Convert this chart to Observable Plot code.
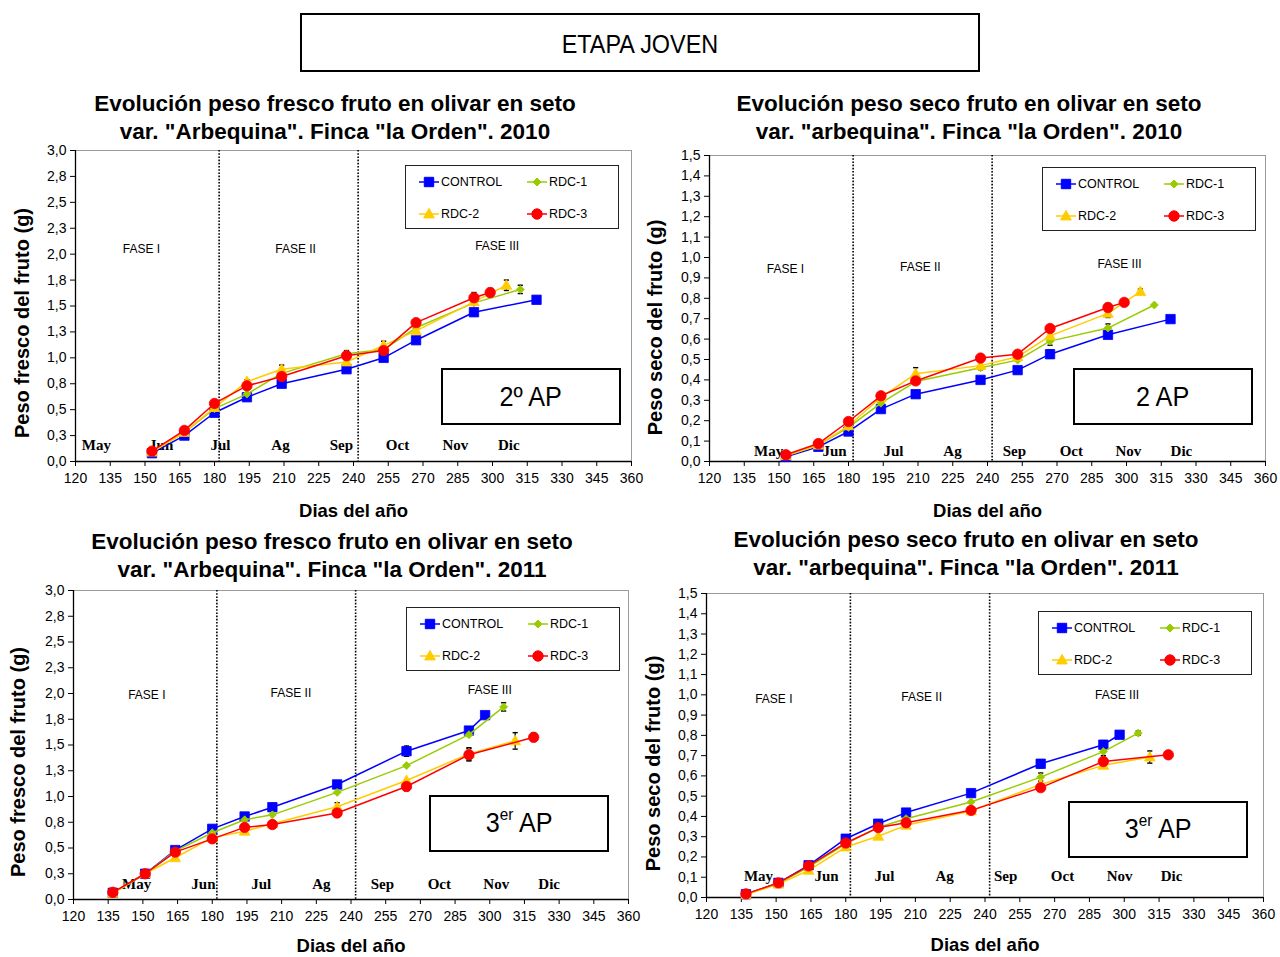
<!DOCTYPE html>
<html><head><meta charset="utf-8">
<script src="https://cdn.jsdelivr.net/npm/d3@7"></script>
<script src="https://cdn.jsdelivr.net/npm/@observablehq/plot@0.6"></script>
<style>
body{margin:0;background:#fff;}
#root{position:relative;width:1280px;height:957px;overflow:hidden;font-family:"Liberation Sans",Arial,sans-serif;color:#000;background:#fff;}
.panel{position:absolute;}
.title{position:absolute;width:640px;text-align:center;font-weight:bold;font-size:22.5px;line-height:28px;white-space:nowrap;}
.legend{position:absolute;border:1.3px solid #222;box-sizing:border-box;width:214px;height:64px;background:#fff;}
.legend .item{position:absolute;font-size:12.5px;line-height:14px;display:flex;align-items:center;white-space:nowrap;}
.apbox{position:absolute;border:2px solid #000;box-sizing:border-box;width:180px;height:57px;display:flex;align-items:center;justify-content:center;font-size:28px;background:#fff;}
.apbox span{display:inline-block;transform:scaleX(0.9);}
.apbox sup{font-size:17px;position:relative;top:-2px;}
#etapa{position:absolute;left:300px;top:13px;width:680px;height:59px;border:2px solid #000;box-sizing:border-box;display:flex;align-items:center;justify-content:center;font-size:26px;padding-top:4px;}
#etapa span{display:inline-block;transform:scaleX(0.9);}
</style>
</head>
<body>
<div id="root">
  <div id="etapa"><span>ETAPA JOVEN</span></div>
</div>
<script>
// ---------- shared categories / ticks ----------
const seriesNames = ["CONTROL", "RDC-1", "RDC-2", "RDC-3"];
const xTicks = [120,135,150,165,180,195,210,225,240,255,270,285,300,315,330,345,360];
const yTicksFresh = [0,0.25,0.5,0.75,1,1.25,1.5,1.75,2,2.25,2.5,2.75,3];
const yLabelsFresh = ["0,0","0,3","0,5","0,8","1,0","1,3","1,5","1,8","2,0","2,3","2,5","2,8","3,0"];
const yTicksDry = [0,0.1,0.2,0.3,0.4,0.5,0.6,0.7,0.8,0.9,1,1.1,1.2,1.3,1.4,1.5];
const yLabelsDry = ["0,0","0,1","0,2","0,3","0,4","0,5","0,6","0,7","0,8","0,9","1,0","1,1","1,2","1,3","1,4","1,5"];
const monthNames = ["May","Jun","Jul","Ag","Sep","Oct","Nov","Dic"];
const phaseNames = ["FASE I","FASE II","FASE III"];
const phaseLimits = [182, 242];

// ---------- 2010 ----------
const days2010 = [153,167,180,194,209,237,253,267,292,299,306,312,319];
const fresh2010 = {
  "CONTROL": [0.08,0.25,0.47,0.62,0.75,0.89,1.00,1.17,1.44,null,null,null,1.56],
  "RDC-1":   [0.09,0.28,0.51,0.65,0.85,1.04,1.08,1.29,1.53,null,null,1.66,null],
  "RDC-2":   [0.09,0.28,0.52,0.77,0.89,0.96,1.12,1.26,1.54,null,1.70,null,null],
  "RDC-3":   [0.10,0.30,0.56,0.73,0.82,1.02,1.07,1.34,1.58,1.63,null,null,null]
};
const fresh2010Err = {
  "CONTROL": [0,0,0,0,0,0,0,0.03,0,0,0,0,0.01],
  "RDC-1":   [0,0,0,0,0,0.03,0,0,0,0,0,0.04,0],
  "RDC-2":   [0,0,0,0.02,0.04,0,0.04,0,0,0,0.05,0,0],
  "RDC-3":   [0,0,0,0,0,0,0,0,0.05,0.04,0,0,0]
};
const dry2010 = {
  "CONTROL": [0.023,0.072,0.147,0.257,0.330,0.400,0.448,0.526,0.621,null,null,null,0.698],
  "RDC-1":   [0.028,0.080,0.167,0.286,0.392,0.460,0.497,0.590,0.654,null,null,0.767,null],
  "RDC-2":   [0.028,0.080,0.175,0.314,0.430,0.470,0.513,0.616,0.726,null,0.833,null,null],
  "RDC-3":   [0.033,0.088,0.196,0.322,0.395,0.507,0.526,0.652,0.755,0.780,null,null,null]
};
const dry2010Err = {
  "CONTROL": [0,0,0,0,0,0,0,0.02,0,0,0,0,0],
  "RDC-1":   [0,0,0,0,0,0,0,0.02,0.02,0,0,0,0],
  "RDC-2":   [0,0,0,0,0.03,0.02,0,0,0.02,0,0.012,0,0],
  "RDC-3":   [0,0,0,0,0,0,0,0,0.02,0,0,0,0]
};

// ---------- 2011 ----------
const days2011 = [137,151,164,180,194,206,234,264,291,298,306,311,319];
const fresh2011 = {
  "CONTROL": [0.065,0.25,0.48,0.686,0.806,0.896,1.117,1.44,1.64,1.79,null,null,null],
  "RDC-1":   [0.065,0.25,0.47,0.648,0.774,0.822,1.040,1.30,1.60,null,1.87,null,null],
  "RDC-2":   [0.060,0.25,0.405,0.600,0.663,0.735,0.900,1.155,1.414,null,null,1.54,null],
  "RDC-3":   [0.070,0.25,0.46,0.589,0.700,0.728,0.840,1.097,1.405,null,null,null,1.575]
};
const fresh2011Err = {
  "CONTROL": [0,0,0,0,0,0,0,0.05,0.03,0,0,0,0],
  "RDC-1":   [0,0,0,0,0,0,0,0,0,0,0.04,0,0],
  "RDC-2":   [0,0,0,0,0,0,0.04,0,0.06,0,0,0.08,0],
  "RDC-3":   [0,0,0,0,0,0,0,0.04,0.06,0,0,0,0.04]
};
const dry2011 = {
  "CONTROL": [0.016,0.072,0.159,0.290,0.364,0.419,0.515,0.660,0.754,0.803,null,null,null],
  "RDC-1":   [0.016,0.070,0.150,0.265,0.345,0.389,0.471,0.594,0.720,null,0.811,null,null],
  "RDC-2":   [0.014,0.066,0.134,0.249,0.302,0.356,0.427,0.558,0.652,null,null,0.693,null],
  "RDC-3":   [0.018,0.072,0.156,0.269,0.345,0.369,0.430,0.542,0.671,null,null,null,0.704]
};
const dry2011Err = {
  "CONTROL": [0,0,0,0,0,0,0,0.02,0.02,0,0,0,0],
  "RDC-1":   [0,0,0,0,0,0,0,0.02,0.02,0,0.01,0,0],
  "RDC-2":   [0,0,0,0,0,0,0,0,0,0,0,0.03,0],
  "RDC-3":   [0,0,0,0,0,0,0,0,0.02,0,0,0,0]
};

// month label positions (day of year) as printed in each chart
const monthDaysP1 = [129,157,182.6,208.5,234.8,259,284,307];
const monthDaysP2 = [145.5,174,199.4,224.9,251.6,276.2,300.8,323.7];
const monthDaysP3 = [147.3,176.2,201.2,227.2,253.6,278.2,302.8,325.7];
const monthDaysP4 = [142.4,171.7,196.7,222.6,248.9,273.4,298,320.4];
// phase label anchor (day, value)
const phaseDaysP1 = [148.5,215,302], phaseValsP1 = [2.05,2.05,2.08];
const phaseDaysP2 = [152.8,211,297], phaseValsP2 = [0.945,0.955,0.965];
const phaseDaysP3 = [151.7,214,300], phaseValsP3 = [1.98,2.0,2.03];
const phaseDaysP4 = [149,212.7,296.9], phaseValsP4 = [0.98,0.99,1.0];

// ---------- styles ----------
const styles = {
  "CONTROL": {color:"#0000FF", shape:"square", r:4.7},
  "RDC-1":   {color:"#99CC00", shape:"diamond", r:4.0},
  "RDC-2":   {color:"#FFCC00", shape:"triangle", r:5.6},
  "RDC-3":   {color:"#FF0000", shape:"circle", r:5.2}
};
const symbols = {
  square: {draw(c, s){ const h = Math.sqrt(s/Math.PI); c.rect(-h,-h,2*h,2*h); }},
  circle: {draw(c, s){ const h = Math.sqrt(s/Math.PI); c.moveTo(h,0); c.arc(0,0,h,0,2*Math.PI); }},
  diamond:{draw(c, s){ const h = Math.sqrt(s/Math.PI); c.moveTo(0,-h); c.lineTo(h,0); c.lineTo(0,h); c.lineTo(-h,0); c.closePath(); }},
  triangle:{draw(c, s){ const h = Math.sqrt(s/Math.PI); c.moveTo(0,-h); c.lineTo(h*0.95,h*0.7); c.lineTo(-h*0.95,h*0.7); c.closePath(); }},
  cap:    {draw(c, s){ const h = Math.sqrt(s/Math.PI); c.moveTo(-h,0); c.lineTo(h,0); }}
};

function toRows(days, values, errs) {
  const rows = [];
  for (const name of seriesNames) {
    values[name].forEach((v, i) => {
      if (v != null) rows.push({series: name, day: days[i], value: v, err: errs[name][i]});
    });
  }
  return rows;
}

const panels = [
  {left:0, top:140, width:640, height:390, mt:10, mr:9, mb:69, ml:75,
   days:days2010, values:fresh2010, errs:fresh2010Err, yTicks:yTicksFresh, yLabels:yLabelsFresh, ymax:3,
   ytitle:"Peso fresco del fruto (g)", ytDx:-53, ytDy:17, xtDy:50, monthDays:monthDaysP1, monthDy:-16,
   phaseDays:phaseDaysP1, phaseVals:phaseValsP1,
   title:["Evolución peso fresco fruto en olivar en seto","var. \"Arbequina\". Finca \"la Orden\". 2010"], titleLeft:15, titleTop:90,
   legend:[405,165], ap:[441,368], apHtml:"2º AP"},
  {left:640, top:140, width:640, height:390, mt:15, mr:15, mb:69, ml:69,
   days:days2010, values:dry2010, errs:dry2010Err, yTicks:yTicksDry, yLabels:yLabelsDry, ymax:1.5,
   ytitle:"Peso seco del fruto (g)", ytDx:-54, ytDy:19, xtDy:50, monthDays:monthDaysP2, monthDy:-10,
   phaseDays:phaseDaysP2, phaseVals:phaseValsP2,
   title:["Evolución peso seco fruto en olivar en seto","var. \"arbequina\". Finca \"la Orden\". 2010"], titleLeft:649, titleTop:90,
   legend:[1042,167], ap:[1073,368], apHtml:"2 AP"},
  {left:0, top:580, width:640, height:377, mt:10, mr:12, mb:58, ml:73,
   days:days2011, values:fresh2011, errs:fresh2011Err, yTicks:yTicksFresh, yLabels:yLabelsFresh, ymax:3,
   ytitle:"Peso fresco del fruto (g)", ytDx:-55, ytDy:17, xtDy:47, monthDays:monthDaysP3, monthDy:-15,
   phaseDays:phaseDaysP3, phaseVals:phaseValsP3,
   title:["Evolución peso fresco fruto en olivar en seto","var. \"Arbequina\". Finca \"la Orden\". 2011"], titleLeft:12, titleTop:528,
   legend:[406,607], ap:[429,795], apHtml:"3<sup>er</sup> AP"},
  {left:640, top:580, width:640, height:377, mt:13, mr:17, mb:60, ml:66,
   days:days2011, values:dry2011, errs:dry2011Err, yTicks:yTicksDry, yLabels:yLabelsDry, ymax:1.5,
   ytitle:"Peso seco del fruto (g)", ytDx:-53, ytDy:18, xtDy:48, monthDays:monthDaysP4, monthDy:-21,
   phaseDays:phaseDaysP4, phaseVals:phaseValsP4,
   title:["Evolución peso seco fruto en olivar en seto","var. \"arbequina\". Finca \"la Orden\". 2011"], titleLeft:646, titleTop:526,
   legend:[1038,611], ap:[1068,801], apHtml:"3<sup>er</sup> AP"}
];

const root = document.getElementById("root");

function swatchSvg(name) {
  const st = styles[name];
  const ns = "http://www.w3.org/2000/svg";
  const svg = document.createElementNS(ns, "svg");
  svg.setAttribute("width", 21); svg.setAttribute("height", 12);
  const line = document.createElementNS(ns, "line");
  line.setAttribute("x1", 0); line.setAttribute("x2", 20); line.setAttribute("y1", 6); line.setAttribute("y2", 6);
  line.setAttribute("stroke", st.color); line.setAttribute("stroke-width", 1.5);
  svg.appendChild(line);
  const path = document.createElementNS(ns, "path");
  path.setAttribute("d", d3.symbol(symbols[st.shape], Math.PI*st.r*st.r)());
  path.setAttribute("transform", "translate(10,6)");
  path.setAttribute("fill", st.color); path.setAttribute("stroke", st.color);
  svg.appendChild(path);
  return svg;
}

for (const p of panels) {
  const rows = toRows(p.days, p.values, p.errs);
  const errRows = rows.filter(d => d.err > 0);
  const marks = [
    Plot.frame({stroke:"#9a9a9a", strokeWidth:1}),
    Plot.ruleX(phaseLimits, {stroke:"#000", strokeWidth:1.6, strokeDasharray:"1.6,1.6"}),
    Plot.ruleY([0], {stroke:"#000", strokeWidth:1.3}),
    Plot.ruleX([120], {stroke:"#000", strokeWidth:1.3}),
    Plot.axisX({ticks:xTicks, tickFormat:d => String(d), tickSize:5, tickPadding:7, fontSize:14, label:null}),
    Plot.axisY({ticks:p.yTicks, tickFormat:d => p.yLabels[p.yTicks.indexOf(d)], tickSize:5, tickPadding:4, fontSize:14, label:null}),
    Plot.text(["Dias del año"], {frameAnchor:"bottom", dy:p.xtDy, lineAnchor:"middle", fontSize:18.5, fontWeight:"bold"}),
    Plot.text([p.ytitle], {frameAnchor:"left", dx:p.ytDx, dy:p.ytDy, rotate:-90, textAnchor:"middle", lineAnchor:"middle", fontSize:20, fontWeight:"bold"}),
    Plot.text(phaseNames, {x:p.phaseDays, y:p.phaseVals, fontSize:12, lineAnchor:"middle"}),
    Plot.text(monthNames, {x:p.monthDays, frameAnchor:"bottom", dy:p.monthDy, lineAnchor:"middle", fontSize:15, fontWeight:"bold", fontFamily:"Liberation Serif, Times New Roman, serif"}),
    Plot.ruleX(errRows, {x:"day", y1:d => d.value - d.err, y2:d => d.value + d.err, stroke:"#000", strokeWidth:1.2}),
    Plot.dot(errRows, {x:"day", y:d => d.value + d.err, symbol:symbols.cap, r:2.6, fill:"none", stroke:"#000", strokeWidth:1.4}),
    Plot.dot(errRows, {x:"day", y:d => d.value - d.err, symbol:symbols.cap, r:2.6, fill:"none", stroke:"#000", strokeWidth:1.4})
  ];
  for (const name of seriesNames) {
    const st = styles[name];
    const s = rows.filter(d => d.series === name);
    marks.push(Plot.line(s, {x:"day", y:"value", stroke:st.color, strokeWidth:1.5}));
    marks.push(Plot.dot(s, {x:"day", y:"value", symbol:symbols[st.shape], r:st.r, fill:st.color, stroke:st.color, strokeWidth:0.8}));
  }
  const chart = Plot.plot({
    width:p.width, height:p.height,
    marginTop:p.mt, marginRight:p.mr, marginBottom:p.mb, marginLeft:p.ml,
    x:{domain:[120,360]},
    y:{domain:[0,p.ymax]},
    style:{fontFamily:"Liberation Sans, Arial, sans-serif", color:"#000", background:"transparent", overflow:"visible"},
    marks
  });
  const wrap = document.createElement("div");
  wrap.className = "panel";
  wrap.style.left = p.left + "px"; wrap.style.top = p.top + "px";
  wrap.appendChild(chart);
  root.appendChild(wrap);

  // title
  const t = document.createElement("div");
  t.className = "title";
  t.style.left = p.titleLeft + "px"; t.style.top = p.titleTop + "px";
  t.innerHTML = p.title.map(s => `<div>${s.replace(/</g,"&lt;")}</div>`).join("");
  root.appendChild(t);

  // legend
  const lg = document.createElement("div");
  lg.className = "legend";
  lg.style.left = p.legend[0] + "px"; lg.style.top = p.legend[1] + "px";
  seriesNames.forEach((name, i) => {
    const it = document.createElement("div");
    it.className = "item";
    it.style.left = (i % 2 ? 121 : 13) + "px";
    it.style.top = (i < 2 ? 9 : 41) + "px";
    it.appendChild(swatchSvg(name));
    const sp = document.createElement("span");
    sp.textContent = name;
    sp.style.marginLeft = "1px";
    it.appendChild(sp);
    lg.appendChild(it);
  });
  root.appendChild(lg);

  // AP box
  const ap = document.createElement("div");
  ap.className = "apbox";
  ap.style.left = p.ap[0] + "px"; ap.style.top = p.ap[1] + "px";
  ap.innerHTML = `<span>${p.apHtml}</span>`;
  root.appendChild(ap);
}
</script>
</body></html>
